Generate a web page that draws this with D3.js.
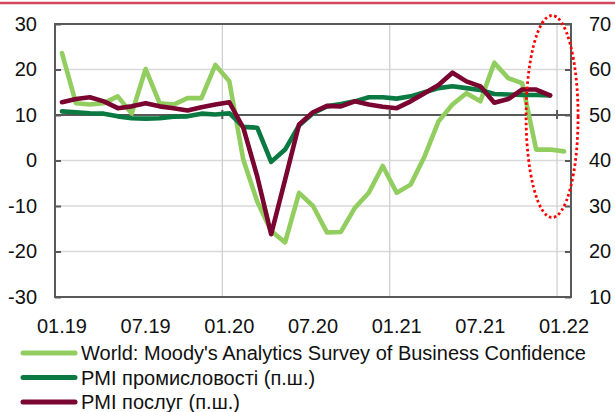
<!DOCTYPE html>
<html>
<head>
<meta charset="utf-8">
<script src="https://cdn.jsdelivr.net/npm/d3@7"></script>
<style>
  html, body { margin: 0; padding: 0; background: #fff; }
  svg { display: block; font-family: "Liberation Sans", Arial, sans-serif; }
</style>
</head>
<body>
<svg id="chart" width="615" height="412"></svg>
<script>
// Monthly observations, Jan 2019 – Jan 2022
const months = d3.range(37).map(i => {
  const m = i % 12 + 1, y = 19 + Math.floor(i / 12);
  return (m < 10 ? "0" + m : "" + m) + "." + y;
});

// World: Moody's Analytics Survey of Business Confidence (left axis)
const moodys = [
  23.6, 12.6, 12.3, 12.6, 14.1, 10.3, 20.1, 12.6, 12.3, 13.7, 13.7, 21.0,
  17.4, 0.2, -9.0, -15.5, -18.0, -7.1, -10.0, -15.8, -15.7, -10.4, -7.1, -1.2,
  -7.1, -5.3, 0.9, 8.6, 12.3, 14.8, 13.0, 21.5, 18.1, 17.0, 2.4, 2.4,
  2.0
];

// PMI manufacturing (right axis), Jan 2019 – Dec 2021
const pmiManufacturing = [
  50.8, 50.6, 50.4, 50.3, 49.7, 49.3, 49.2, 49.3, 49.6, 49.7, 50.3, 50.1,
  50.4, 47.4, 47.2, 39.7, 42.4, 47.7, 50.4, 51.9, 52.4, 53.0, 53.9, 53.9,
  53.6, 54.1, 55.0, 55.9, 56.3, 55.9, 55.5, 54.6, 54.5, 54.4, 54.4, 54.3
];

// PMI services (right axis), Jan 2019 – Dec 2021
const pmiServices = [
  52.8, 53.5, 53.9, 53.0, 51.5, 51.9, 52.6, 51.9, 51.5, 51.0, 51.7, 52.3,
  52.8, 47.2, 36.5, 23.8, 35.8, 47.9, 50.6, 52.0, 51.9, 53.0, 52.3, 51.8,
  51.5, 53.0, 54.8, 56.6, 59.3, 57.4, 56.3, 52.7, 53.5, 55.6, 55.6, 54.3
];

const xTickLabels = ["01.19", "07.19", "01.20", "07.20", "01.21", "07.21", "01.22"];
const yearStarts = ["01.20", "01.21", "01.22"];
const leftTicks = [-30, -20, -10, 0, 10, 20, 30];
const rightTicks = [10, 20, 30, 40, 50, 60, 70];

const seriesNames = [
  "World: Moody's Analytics Survey of Business Confidence",
  "PMI промисловості (п.ш.)",
  "PMI послуг (п.ш.)"
];
const seriesColors = ["#92cd5f", "#0a7a42", "#7a0530"];

const svg = d3.select("#chart");
const plot = { left: 55, right: 571, top: 24, bottom: 297 };
const fontSize = 20;

const x = d3.scaleBand().domain(months).range([plot.left, plot.right]).padding(0);
const cx = m => x(m) + x.bandwidth() / 2;
const yL = d3.scaleLinear().domain([-30, 30]).range([plot.bottom, plot.top]);
const yR = d3.scaleLinear().domain([10, 70]).range([plot.bottom, plot.top]);

// decorative rule across the top
svg.append("line")
  .attr("x1", 0).attr("x2", 615).attr("y1", 3).attr("y2", 3)
  .attr("stroke", "#d4485f").attr("stroke-width", 2.5);

// gridlines
const grid = svg.append("g");
grid.selectAll("line.h").data(leftTicks.filter(v => v > -30 && v < 30 && v !== 10))
  .join("line")
  .attr("x1", plot.left).attr("x2", plot.right)
  .attr("y1", d => yL(d)).attr("y2", d => yL(d))
  .attr("stroke", "#d9d9d9").attr("stroke-width", 1.3);
grid.selectAll("line.v").data(yearStarts)
  .join("line")
  .attr("x1", d => x(d)).attr("x2", d => x(d))
  .attr("y1", plot.top).attr("y2", plot.bottom)
  .attr("stroke", "#d0d0d0").attr("stroke-width", 1.3);

// plot frame
svg.append("rect")
  .attr("x", plot.left).attr("y", plot.top)
  .attr("width", plot.right - plot.left).attr("height", plot.bottom - plot.top)
  .attr("fill", "none").attr("stroke", "#595959").attr("stroke-width", 2);

// left and right value axes (ticks point into the plot)
const plain = d => String(d);
const axL = svg.append("g").attr("transform", `translate(${plot.left},0)`)
  .call(d3.axisLeft(yL).tickValues(leftTicks).tickSize(-6).tickPadding(18).tickFormat(plain));
const axR = svg.append("g").attr("transform", `translate(${plot.right},0)`)
  .call(d3.axisRight(yR).tickValues(rightTicks).tickSize(-6).tickPadding(18).tickFormat(plain));
[axL, axR].forEach(a => {
  a.select(".domain").remove();
  a.selectAll(".tick line").attr("stroke", "#595959").attr("stroke-width", 2);
  a.selectAll(".tick text").attr("font-size", fontSize).attr("fill", "#111")
    .attr("font-family", "Liberation Sans, Arial, sans-serif");
});

// category axis crossing at PMI 50
const yAxisPos = yR(50);
svg.append("line")
  .attr("x1", plot.left).attr("x2", plot.right)
  .attr("y1", yAxisPos).attr("y2", yAxisPos)
  .attr("stroke", "#595959").attr("stroke-width", 2);
svg.append("g").selectAll("line").data(yearStarts).join("line")
  .attr("x1", d => x(d)).attr("x2", d => x(d))
  .attr("y1", yAxisPos - 5).attr("y2", yAxisPos + 4)
  .attr("stroke", "#595959").attr("stroke-width", 2);

// category labels along the bottom
svg.append("g").selectAll("text").data(xTickLabels).join("text")
  .attr("x", d => cx(d)).attr("y", 333)
  .attr("text-anchor", "middle")
  .attr("font-size", fontSize).attr("fill", "#111")
  .text(d => d);

// series lines
const lineL = d3.line().x((d, i) => cx(months[i])).y(d => yL(d));
const lineR = d3.line().x((d, i) => cx(months[i])).y(d => yR(d));
const drawLine = (data, gen, color) => svg.append("path")
  .datum(data).attr("d", gen)
  .attr("fill", "none").attr("stroke", color)
  .attr("stroke-width", 4.6).attr("stroke-linejoin", "round").attr("stroke-linecap", "round");

drawLine(moodys, lineL, seriesColors[0]);
drawLine(pmiManufacturing, lineR, seriesColors[1]);
drawLine(pmiServices, lineR, seriesColors[2]);

// dotted highlight around the latest readings
svg.append("ellipse")
  .attr("cx", (x("12.21") + x("01.22")) / 2 + 2).attr("cy", 116.5)
  .attr("rx", 26).attr("ry", 101)
  .attr("fill", "none").attr("stroke", "#ff0000")
  .attr("stroke-width", 2.8).attr("stroke-dasharray", "2.6 2.6");

// legend
const legend = svg.append("g").selectAll("g").data(seriesNames).join("g")
  .attr("transform", (d, i) => `translate(0,${353 + i * 24.5})`);
legend.append("line")
  .attr("x1", 23).attr("x2", 75).attr("y1", 0).attr("y2", 0)
  .attr("stroke", (d, i) => seriesColors[i]).attr("stroke-width", 5).attr("stroke-linecap", "round");
legend.append("text")
  .attr("x", 81).attr("y", 7)
  .attr("font-size", fontSize).attr("fill", "#111")
  .text(d => d);
</script>
</body>
</html>
